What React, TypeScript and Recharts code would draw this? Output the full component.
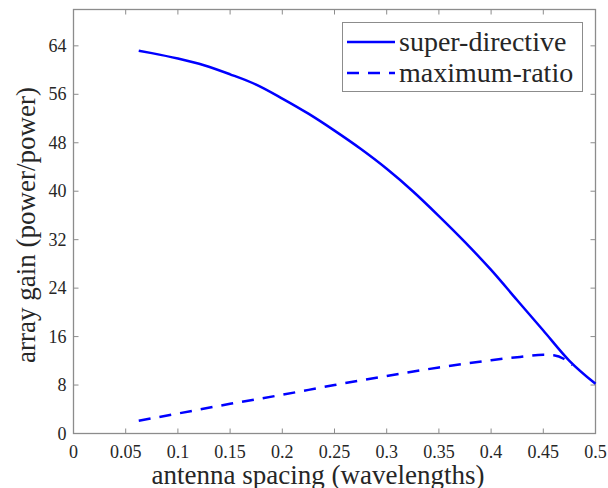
import { LineChart, Line, XAxis, YAxis, ReferenceLine } from 'recharts'

// antenna spacing (wavelengths) and array gain
const superX = [0.0625, 0.075, 0.1, 0.125, 0.15, 0.175, 0.2, 0.225, 0.25, 0.275, 0.3, 0.325, 0.35, 0.375, 0.4, 0.425, 0.45, 0.475, 0.5]
const superGain = [63.2, 62.8, 61.9, 60.8, 59.3, 57.6, 55.3, 52.8, 50.0, 47.0, 43.7, 40.0, 35.9, 31.6, 27.0, 22.0, 17.0, 12.0, 8.2]

const mrX = [0.0625, 0.1, 0.15, 0.2, 0.25, 0.3, 0.35, 0.4, 0.425, 0.45, 0.46, 0.47, 0.478]
const mrGain = [2.1, 3.3, 4.9, 6.4, 8.0, 9.5, 10.9, 12.1, 12.6, 13.0, 12.9, 12.3, 11.3]

const xTicks = [0, 0.05, 0.1, 0.15, 0.2, 0.25, 0.3, 0.35, 0.4, 0.45, 0.5]
const yTicks = [0, 8, 16, 24, 32, 40, 48, 56, 64]

const seriesNames = ['super-directive', 'maximum-ratio']

const superData = superX.map((x, i) => ({ x, gain: superGain[i] }))
const mrData = mrX.map((x, i) => ({ x, gain: mrGain[i] }))

const X_MAX = 0.5
const Y_MAX = 70
// inward tick length, ~5px in each direction of a 522x424 plot box
const tickLenX = (X_MAX * 5) / 522
const tickLenY = (Y_MAX * 5) / 424

const AXIS = '#8c8c8c'
const TEXT = '#262626'
const FONT = 'Liberation Serif'
const BLUE = '#0000ff'

// plot box in pixels (matches the chart margins + axis sizes below)
const BOX = { left: 73.5, top: 9.5, width: 522, height: 424 }

function XTick({ x, y, payload }: any) {
  return (
    <text x={x} y={y} dy={24.5} textAnchor="middle" fontFamily={FONT} fontSize={18} fill={TEXT}>
      {String(payload.value)}
    </text>
  )
}

function YTick({ x, y, payload }: any) {
  return (
    <text x={x} y={y} dy={6} textAnchor="end" fontFamily={FONT} fontSize={18} fill={TEXT}>
      {String(payload.value)}
    </text>
  )
}

// legend drawn as a plain box over the plot, like matlab's "northeast" legend
function LegendBox() {
  return (
    <div style={{
      position: 'absolute', left: 342, top: 22, width: 241, height: 70,
      border: `1px solid ${AXIS}`, background: '#fff',
      fontFamily: FONT, fontSize: 28, color: TEXT, boxSizing: 'border-box',
      padding: '3px 0 0 2px', lineHeight: '31px'
    }}>
      {seriesNames.map((name, i) => (
        <div key={name} style={{ display: 'flex', alignItems: 'center' }}>
          <svg width={52} height={10} style={{ marginRight: 2 }}>
            <line x1={2} y1={5} x2={50} y2={5} stroke={BLUE} strokeWidth={2.5}
              strokeDasharray={i === 1 ? '12 9' : undefined} />
          </svg>
          <span>{name}</span>
        </div>
      ))}
    </div>
  )
}

export default function App() {
  return (
    <div style={{ position: 'absolute', left: 0, top: 0, width: 608, height: 488, background: '#fff' }}>
      <LineChart width={608} height={488} margin={{ top: 9.5, right: 12.5, left: 23.5, bottom: 4.5 }}>
        <XAxis dataKey="x" type="number" domain={[0, X_MAX]} ticks={xTicks} height={50}
          stroke={AXIS} tickLine={false} tickSize={0} tickMargin={0} tick={<XTick />} />
        <YAxis type="number" domain={[0, Y_MAX]} ticks={yTicks} width={50}
          stroke={AXIS} tickLine={false} tickSize={0} tickMargin={7} tick={<YTick />} />
        {xTicks.slice(1, -1).map(t => (
          <ReferenceLine key={'xb' + t} segment={[{ x: t, y: 0 }, { x: t, y: tickLenY }]} stroke={AXIS} />
        ))}
        {xTicks.slice(1, -1).map(t => (
          <ReferenceLine key={'xt' + t} segment={[{ x: t, y: Y_MAX }, { x: t, y: Y_MAX - tickLenY }]} stroke={AXIS} />
        ))}
        {yTicks.slice(1).map(t => (
          <ReferenceLine key={'yl' + t} segment={[{ x: 0, y: t }, { x: tickLenX, y: t }]} stroke={AXIS} />
        ))}
        {yTicks.slice(1).map(t => (
          <ReferenceLine key={'yr' + t} segment={[{ x: X_MAX, y: t }, { x: X_MAX - tickLenX, y: t }]} stroke={AXIS} />
        ))}
        <Line data={superData} dataKey="gain" name={seriesNames[0]}
          type="monotone" stroke={BLUE} strokeWidth={2.5} dot={false} isAnimationActive={false} />
        <Line data={mrData} dataKey="gain" name={seriesNames[1]}
          type="monotone" stroke={BLUE} strokeWidth={2.5} strokeDasharray="12 9" dot={false}
          isAnimationActive={false} />
        <rect x={BOX.left} y={BOX.top} width={BOX.width} height={BOX.height}
          fill="none" stroke={AXIS} strokeWidth={1.3} />
        <text x={318} y={483.5} textAnchor="middle" fontFamily={FONT} fontSize={27} fill={TEXT}>
          antenna spacing (wavelengths)
        </text>
        <text x={26} y={225} textAnchor="middle" dominantBaseline="central" fontFamily={FONT}
          fontSize={27} fill={TEXT} transform="rotate(-90, 26, 225)">
          array gain (power/power)
        </text>
      </LineChart>
      <LegendBox />
    </div>
  )
}
